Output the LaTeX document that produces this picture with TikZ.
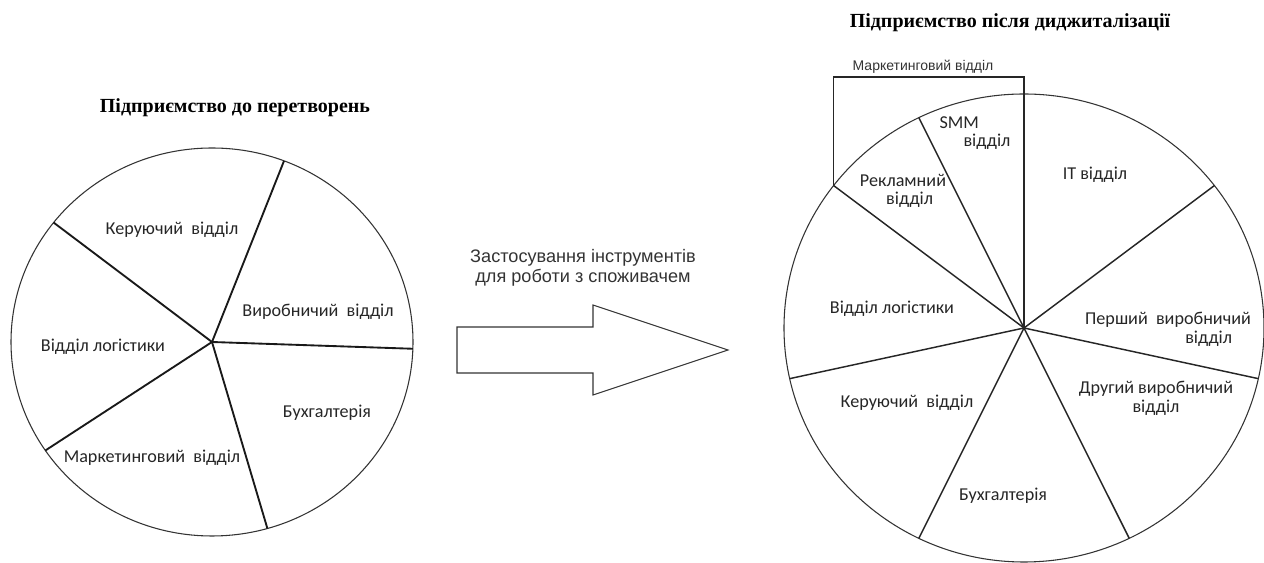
\documentclass[tikz,border=0pt]{standalone}
\usepackage{fontspec}
\setmainfont{Liberation Serif}
\newfontfamily\calibfont{Carlito}
\newfontfamily\arialfont{Liberation Sans}
\usetikzlibrary{positioning}

\begin{document}
\begin{tikzpicture}[x=0.75pt, y=0.75pt,
						ttl/.style={font=\bfseries\fontsize{15}{17}\selectfont},
						dept/.style={font=\calibfont\fontsize{13.6}{14}\selectfont, align=center, inner sep=0pt, text=black!85},
						small/.style={font=\arialfont\fontsize{10.5}{12}\selectfont, inner sep=0pt, text=black!80},
						note/.style={font=\arialfont\fontsize{13.6}{15}\selectfont, align=center, text=black!80, inner sep=0pt},
						rim/.style={draw=black!80, line width=0.8pt},
						spoke/.style={draw=black!90, line width=1.4pt},
						rspoke/.style={draw=black!85, line width=1.1pt}
					]
					\useasboundingbox (0,0) rectangle (1264,563);
					\coordinate (lc) at (212,221);
					\coordinate (rc) at (1024,235);
					\coordinate (mtop) at (1024,486);
					\coordinate (mk) at ([shift={(142.5:240 and 234)}]rc);
					\draw[rim] (lc) ellipse [x radius=201, y radius=194];
					\foreach \a in {69,142,-2,-74,214}
						\draw[spoke] (lc) -- ([shift={(\a:201 and 194)}]lc);
					\node[ttl] (t1) at (235,455) {Підприємство до перетворень};
					\node[dept] (l1) at (172,333) {Керуючий \ відділ};
					\node[dept] (l2) at (318,251) {Виробничий \ відділ};
					\node[dept] (l3) at (103,216) {Відділ логістики};
					\node[dept] (l4) at (327,150) {Бухгалтерія};
					\node[dept] (l5) at (152,105) {Маркетинговий \ відділ};
					\coordinate (a1) at (457,236);
					\coordinate (a2) at (593,236);
					\coordinate (a3) at (593,258);
					\coordinate (tip) at (728,213);
					\coordinate (a4) at (593,168);
					\coordinate (a5) at (593,190);
					\coordinate (a6) at (457,190);
					\draw[rim] (a1) -- (a2) -- (a3) -- (tip) -- (a4) -- (a5) -- (a6) -- cycle;
					\node[note] (tools) [above=14pt of a3, xshift=-7.5pt] {Застосування інструментів\\для роботи з споживачем};
					\draw[rim] (rc) ellipse [x radius=240, y radius=234];
					\foreach \a in {116,142.5,192.5,244,296,347.5,37.5}
						\draw[rspoke] (rc) -- ([shift={(\a:240 and 234)}]rc);
					\draw[rspoke] (mk) |- (mtop) -- (rc);
					\node[ttl] (t2) at (1010,540) {Підприємство після диджиталізації};
					\node[small] (r0) at (923,496) {Маркетинговий відділ};
					\node[dept, align=left] (r1) at (975,430) {SMM\\\hspace*{18pt}відділ};
					\node[dept] (r2) at (903,372) {Рекламний\\\hspace*{10pt}відділ};
					\node[dept] (r3) at (1095,388) {IT відділ};
					\node[dept] (r4) at (892,254) {Відділ логістики};
					\node[dept, align=right] (r5) at (1168,234) {Перший \ виробничий\\відділ\hspace*{14pt}};
					\node[dept] (r6) at (1156,165) {Другий виробничий\\відділ};
					\node[dept] (r7) at (907,160) {Керуючий \ відділ};
					\node[dept] (r8) at (1003,67) {Бухгалтерія};
					\end{tikzpicture}
\end{document}
